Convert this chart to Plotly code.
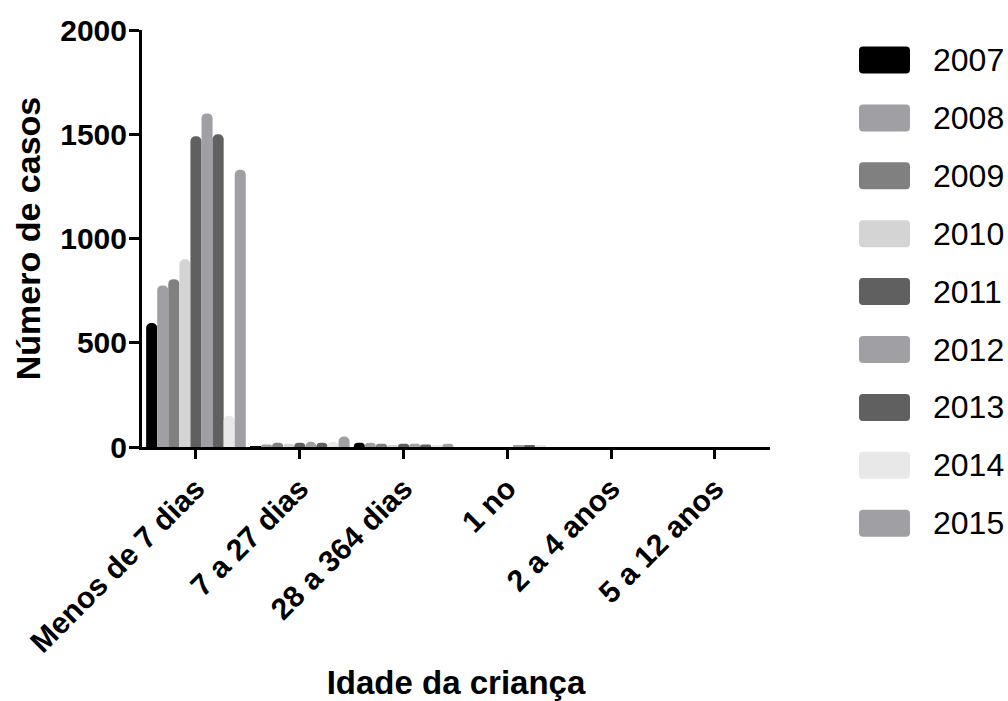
import plotly.graph_objects as go

# Age groups (x categories) and years (series)
categories = ["Menos de 7 dias", "7 a 27 dias", "28 a 364 dias", "1 no", "2 a 4 anos", "5 a 12 anos"]
years = ["2007", "2008", "2009", "2010", "2011", "2012", "2013", "2014", "2015"]

# Number of cases per year, one value per age group
cases_2007 = [595, 3, 20, 0, 0, 0]
cases_2008 = [775, 12, 20, 0, 0, 0]
cases_2009 = [805, 20, 15, 0, 0, 0]
cases_2010 = [900, 15, 10, 0, 0, 0]
cases_2011 = [1490, 20, 15, 0, 0, 0]
cases_2012 = [1600, 25, 15, 8, 0, 0]
cases_2013 = [1500, 20, 12, 8, 0, 0]
cases_2014 = [150, 25, 10, 5, 0, 0]
cases_2015 = [1330, 50, 15, 0, 0, 0]

series = [cases_2007, cases_2008, cases_2009, cases_2010, cases_2011,
          cases_2012, cases_2013, cases_2014, cases_2015]
colors = ["#000000", "#a0a0a4", "#808080", "#d4d4d4", "#606060",
          "#a0a0a4", "#606060", "#e8e8e8", "#a0a0a4"]

FONT = "Liberation Sans, Arial, sans-serif"
W, H = 1008, 701
L, R, T, B = 142, 238, 30, 254

fig = go.Figure()
for yr, vals, col in zip(years, series, colors):
    fig.add_trace(go.Bar(
        name=yr, x=categories, y=vals,
        marker=dict(color=col, line=dict(width=0), cornerradius=5),
        showlegend=False,
    ))

# Legend drawn as rounded swatches with labels on the right
plot_w = W - L - R
plot_h = H - T - B


def px_to_paper(px, py):
    return (px - L) / plot_w, (H - B - py) / plot_h


def rounded_rect(x0, y0, x1, y1, r):
    # x0,y0 top-left, x1,y1 bottom-right in pixels -> SVG path in paper units
    def p(x, y):
        X, Y = px_to_paper(x, y)
        return f"{X:.5f},{Y:.5f}"
    return (f"M {p(x0 + r, y0)} L {p(x1 - r, y0)} Q {p(x1, y0)} {p(x1, y0 + r)} "
            f"L {p(x1, y1 - r)} Q {p(x1, y1)} {p(x1 - r, y1)} "
            f"L {p(x0 + r, y1)} Q {p(x0, y1)} {p(x0, y1 - r)} "
            f"L {p(x0, y0 + r)} Q {p(x0, y0)} {p(x0 + r, y0)} Z")


shapes = []
annotations = []
for i, (yr, col) in enumerate(zip(years, colors)):
    cy = 60 + 57.9 * i
    shapes.append(dict(
        type="path", xref="paper", yref="paper",
        path=rounded_rect(859, cy - 13.5, 910, cy + 13.5, 4),
        fillcolor=col, line=dict(width=0),
    ))
    tx, ty = px_to_paper(931, cy)
    annotations.append(dict(
        x=tx, y=ty, xref="paper", yref="paper", text=yr, showarrow=False,
        xanchor="left", yanchor="middle",
        font=dict(family=FONT, size=32, color="#000000"),
    ))

fig.update_layout(
    width=W, height=H,
    margin=dict(l=L, r=R, t=T, b=B, autoexpand=False),
    paper_bgcolor="white", plot_bgcolor="white",
    barmode="group", bargap=0.04, bargroupgap=0,
    shapes=shapes, annotations=annotations,
    font=dict(family=FONT, color="#000000"),
)

fig.update_xaxes(
    type="category", range=[-0.52, 5.53],
    showline=True, linewidth=3, linecolor="#000000",
    ticks="outside", ticklen=9, tickwidth=3, tickcolor="#000000",
    tickangle=-45, showgrid=False, zeroline=False,
    tickfont=dict(family=FONT, size=30, color="#000000", weight="bold"),
    title=dict(text="<b>Idade da criança</b>", standoff=22,
               font=dict(family=FONT, size=33, color="#000000")),
    automargin=False,
)
fig.update_yaxes(
    range=[0, 2000], dtick=500,
    showline=True, linewidth=3, linecolor="#000000",
    ticks="outside", ticklen=10, tickwidth=3, tickcolor="#000000",
    ticklabelstandoff=-4,
    showgrid=False, zeroline=False,
    tickfont=dict(family=FONT, size=30, color="#000000", weight="bold"),
    title=dict(text="<b>Número de casos</b>", standoff=10,
               font=dict(family=FONT, size=34, color="#000000")),
    automargin=False,
)

fig.write_html("out.html")
